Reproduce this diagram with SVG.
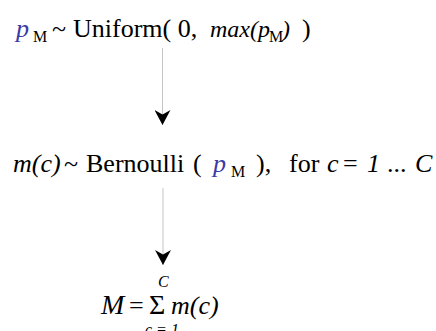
<svg xmlns="http://www.w3.org/2000/svg" width="436" height="331" viewBox="0 0 436 331">
<style>
text{font-family:"Liberation Serif","Times New Roman",serif;font-size:26px;fill:#000}
.i{font-style:italic}
.b{fill:#3a3aa6}
.s{font-size:16px}
.conn line{stroke:#c4c4c4;stroke-width:1}
</style>
<defs>
<marker id="arr" viewBox="0 0 15 16" markerWidth="15" markerHeight="16" refX="15" refY="8" orient="auto" markerUnits="userSpaceOnUse">
<path d="M0,0 L15,8 L0,16 L4.5,8 Z" fill="#000"/>
</marker>
</defs>
<rect width="436" height="331" fill="#fff"/>
<g class="conn">
<line x1="162.5" y1="48" x2="162.5" y2="125" marker-end="url(#arr)"/>
<line x1="163" y1="188" x2="163" y2="265" marker-end="url(#arr)"/>
</g>
<g id="node-prior">
<text y="37"><tspan x="16" class="i b">p</tspan><tspan x="33" y="42" class="s">M</tspan><tspan x="52" y="37">~</tspan><tspan x="73">Uniform( 0,</tspan><tspan x="210" class="i" style="font-size:24px">max(p</tspan><tspan x="269" y="42" class="s">M</tspan><tspan x="282" y="37" class="i" style="font-size:24px">)</tspan><tspan x="302">)</tspan></text>
</g>
<g id="node-bernoulli">
<text y="172"><tspan x="13" class="i">m(c)</tspan><tspan x="64">~</tspan><tspan x="86">Bernoulli</tspan><tspan x="193">(</tspan><tspan x="213" class="i b">p</tspan><tspan x="231" y="177" class="s">M</tspan><tspan x="256" y="172">),</tspan><tspan x="289">for</tspan><tspan x="327" class="i">c</tspan><tspan x="343">=</tspan><tspan x="367" class="i">1</tspan><tspan x="387">...</tspan><tspan x="415" class="i">C</tspan></text>
</g>
<g id="node-sum">
<text y="314"><tspan x="101" class="i" style="font-size:28px">M</tspan><tspan x="129">=</tspan><tspan x="149" style="font-size:28px">Σ</tspan><tspan x="171" class="i">m(c)</tspan></text>
<text x="158" y="287" class="i s">C</text>
<text x="145" y="335" class="i s">c = 1</text>
</g>
</svg>
